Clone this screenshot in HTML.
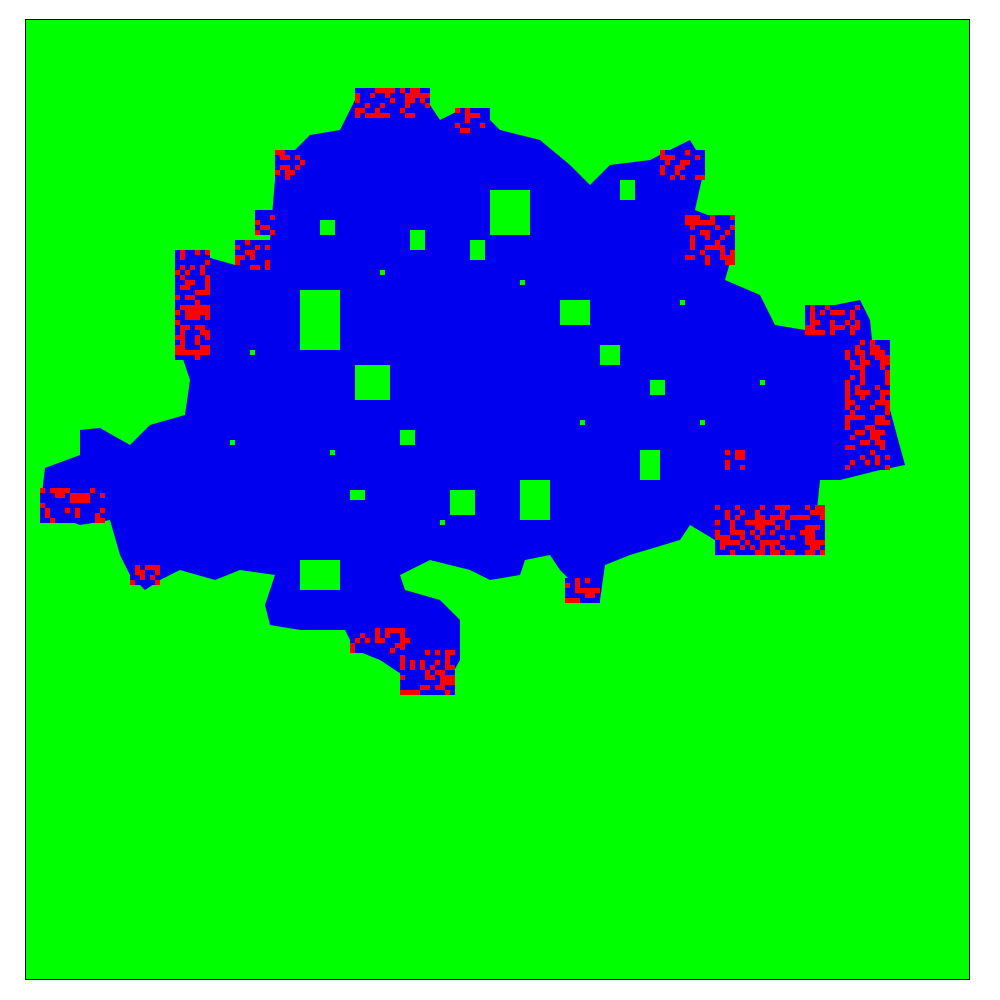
<!DOCTYPE html>
<html><head><meta charset="utf-8"><style>
html,body{margin:0;padding:0;background:#fff;width:1000px;height:1000px;overflow:hidden}
</style></head><body>
<svg id="chart" width="1000" height="1000" xmlns="http://www.w3.org/2000/svg">
<rect x="25.5" y="19.5" width="944" height="960" fill="#00ff00" stroke="#000" stroke-width="1"/>
<g id="layer"></g>
</svg>
<script>
// blob outline (x, y)
const blobX=[45,80,80,100,130,150,185,190,180,175,180,200,235,245,270,275,290,310,340,355,390,420,440,460,480,500,540,570,590,610,650,690,705,695,720,735,725,760,775,805,810,860,870,875,890,905,880,840,820,815,790,755,715,690,680,630,605,600,580,560,550,525,520,490,470,430,400,405,440,460,460,440,410,380,355,345,300,270,265,275,240,215,180,160,145,130,120,110,80,40];
const blobY=[468,455,430,428,445,425,415,380,350,310,260,255,265,245,240,180,155,135,130,100,90,90,120,110,110,130,140,165,185,165,160,140,165,210,220,245,280,295,325,330,310,300,320,370,410,465,470,480,480,530,555,550,540,525,540,555,565,600,590,570,555,560,575,580,570,560,575,590,600,620,660,695,680,660,650,630,630,625,605,575,570,580,570,580,590,575,555,520,525,510];
// green holes (x, y, w, h)
const holeX=[300,355,490,560,640,520,450,600,410,320,470,300,620,400,350,650,250,330,440,580,700,760,230,520,380,680];
const holeY=[290,365,190,300,450,480,490,345,230,220,240,560,180,430,490,380,350,450,520,420,420,380,440,280,270,300];
const holeW=[40,35,40,30,20,30,25,20,15,15,15,40,15,15,15,15,5,5,5,5,5,5,5,5,5,5];
const holeH=[60,35,45,25,30,40,25,20,20,15,20,30,20,15,10,15,5,5,5,5,5,5,5,5,5,5];
// red speckle zones (x, y, w, h)
const redX=[355,275,175,235,685,805,845,715,565,350,400,40,130,660,455,255,725];
const redY=[88,150,250,240,215,305,340,505,578,628,650,488,565,150,108,210,450];
const redW=[75,30,35,35,50,55,45,110,35,60,55,65,30,45,35,20,25];
const redH=[30,30,110,30,50,30,130,50,25,25,45,35,20,30,25,25,20];

const NS="http://www.w3.org/2000/svg";
const layer=document.getElementById('layer');
let pts=blobX.map((x,i)=>x+","+blobY[i]).join(" ");
const blob=document.createElementNS(NS,"polygon");


blob.setAttribute("points",pts);blob.setAttribute("fill","#0000ee");
layer.appendChild(blob);
holeX.forEach((x,i)=>{
  const r=document.createElementNS(NS,"rect");
  
  
  r.setAttribute("x",x);r.setAttribute("y",holeY[i]);r.setAttribute("width",holeW[i]);r.setAttribute("height",holeH[i]);
  r.setAttribute("fill","#00ff00");layer.appendChild(r);
});
redX.forEach((x,i)=>{
  const g=document.createElementNS(NS,"g");
  
  
  const cell=5;
  for(let yy=redY[i];yy<redY[i]+redH[i];yy+=cell){
    for(let xx=x;xx<x+redW[i];xx+=cell){
      let h=(Math.imul(xx,73856093)^Math.imul(yy,19349663))>>>0;
      h=(h^(h>>>13))>>>0;
      const red=(h%10)<4;
      const r=document.createElementNS(NS,"rect");
      r.setAttribute("x",xx);r.setAttribute("y",yy);r.setAttribute("width",cell);r.setAttribute("height",cell);
      r.setAttribute("fill",red?"#ff0000":"#0000ee");
      g.appendChild(r);
    }
  }
  layer.appendChild(g);
});
</script>
</body></html>
